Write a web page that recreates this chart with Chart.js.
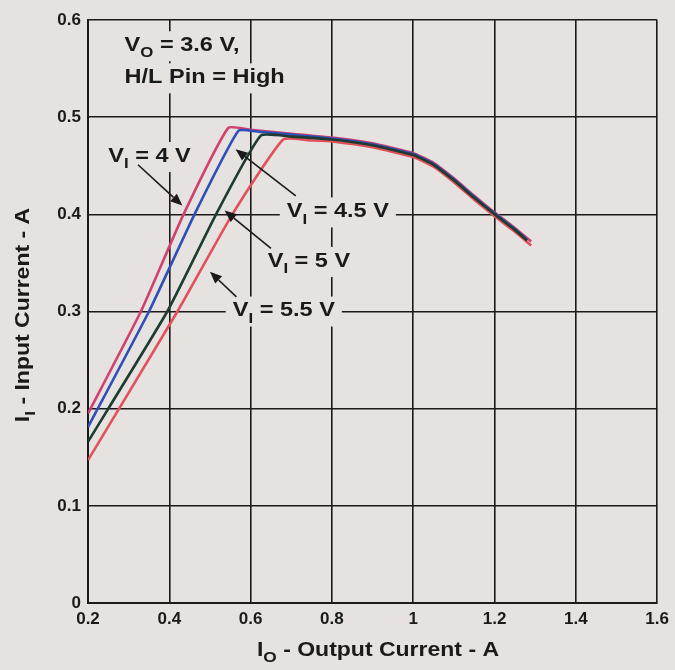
<!DOCTYPE html>
<html>
<head>
<meta charset="utf-8">
<script src="https://cdn.jsdelivr.net/npm/chart.js@4/dist/chart.umd.min.js"></script>
<style>
  html, body { margin: 0; padding: 0; background: #e5e2df; }
  canvas { display: block; }
</style>
</head>
<body>
<canvas id="chart" width="675" height="670"></canvas>
<script>
// output current (A) / input current (A)
const io4V = [0.20, 0.33, 0.435, 0.545, 0.60, 0.70, 0.80, 0.90, 1.00, 1.05, 1.10, 1.15, 1.20, 1.25, 1.29];
const ii4V = [0.195, 0.30, 0.40, 0.489, 0.487, 0.483, 0.479, 0.473, 0.463, 0.453, 0.437, 0.419, 0.402, 0.386, 0.372];

const io45V = [0.20, 0.35, 0.462, 0.57, 0.62, 0.70, 0.80, 0.90, 1.00, 1.05, 1.10, 1.15, 1.20, 1.25, 1.28];
const ii45V = [0.181, 0.30, 0.40, 0.486, 0.485, 0.482, 0.478, 0.472, 0.462, 0.452, 0.436, 0.418, 0.401, 0.385, 0.374];

const io5V = [0.20, 0.395, 0.515, 0.625, 0.70, 0.80, 0.90, 1.00, 1.05, 1.10, 1.15, 1.20, 1.25, 1.28];
const ii5V = [0.166, 0.30, 0.40, 0.481, 0.480, 0.477, 0.471, 0.461, 0.451, 0.435, 0.417, 0.400, 0.384, 0.373];

const io55V = [0.20, 0.42, 0.555, 0.68, 0.75, 0.80, 0.90, 1.00, 1.05, 1.10, 1.15, 1.20, 1.25, 1.29];
const ii55V = [0.147, 0.30, 0.40, 0.477, 0.476, 0.475, 0.469, 0.459, 0.449, 0.433, 0.415, 0.398, 0.382, 0.368];

// text notes, positions in data units
const notes = [
    { parts: [["V"], ["O", 1], [" = 3.6 V,"]], x: 0.29, y: 0.574 },
    { parts: [["H/L Pin = High"]], x: 0.29, y: 0.541 },
    { parts: [["V"], ["I", 1], [" = 4 V"]], x: 0.25, y: 0.460 },
    { parts: [["V"], ["I", 1], [" = 4.5 V"]], x: 0.689, y: 0.403 },
    { parts: [["V"], ["I", 1], [" = 5 V"]], x: 0.642, y: 0.352 },
    { parts: [["V"], ["I", 1], [" = 5.5 V"]], x: 0.556, y: 0.301 },
];
// arrows: tail x, tail y, head x, head y
const arrows = [
    [0.323, 0.451, 0.432, 0.409],
    [0.711, 0.419, 0.563, 0.467],
    [0.650, 0.365, 0.536, 0.404],
    [0.565, 0.315, 0.500, 0.341],
];

const bg = "#e5e2df";
const ink = "#1a1a1a";
const fam = '"Liberation Sans", Arial, sans-serif';
const stretch = 1.12;

function pts(xs, ys) {
    return xs.map((x, i) => ({ x: x, y: ys[i] }));
}

function partsWidth(ctx, parts, big, small, sx) {
    let w = 0;
    parts.forEach((p) => {
        ctx.font = p[1] ? small : big;
        w += ctx.measureText(p[0]).width;
    });
    return w * sx;
}

function drawParts(ctx, parts, x, y, big, small, subDy, sx) {
    ctx.save();
    ctx.translate(x, y);
    ctx.scale(sx, 1);
    ctx.textBaseline = "middle";
    ctx.textAlign = "left";
    let cx = 0;
    parts.forEach((p) => {
        ctx.font = p[1] ? small : big;
        ctx.fillText(p[0], cx, p[1] ? subDy : 0);
        cx += ctx.measureText(p[0]).width;
    });
    ctx.restore();
}

const notesPlugin = {
    id: "notes",
    beforeDraw(chart) {
        const ctx = chart.ctx;
        ctx.save();
        ctx.fillStyle = bg;
        ctx.fillRect(0, 0, chart.width, chart.height);
        ctx.restore();
    },
    beforeDatasetsDraw(chart) {
        const ctx = chart.ctx;
        const xs = chart.scales.x, ys = chart.scales.y;
        const big = "bold 21px " + fam, small = "bold 15px " + fam;
        ctx.save();
        ctx.fillStyle = bg;
        notes.forEach((n) => {
            const w = partsWidth(ctx, n.parts, big, small, stretch);
            const px = xs.getPixelForValue(n.x), py = ys.getPixelForValue(n.y);
            ctx.fillRect(px - 7, py - 14, w + 14, 30);
        });
        ctx.restore();
    },
    afterDatasetsDraw(chart) {
        const ctx = chart.ctx;
        const xs = chart.scales.x, ys = chart.scales.y;
        const big = "bold 21px " + fam, small = "bold 15px " + fam;
        ctx.save();
        ctx.fillStyle = ink;
        ctx.strokeStyle = ink;
        notes.forEach((n) => {
            drawParts(ctx, n.parts, xs.getPixelForValue(n.x), ys.getPixelForValue(n.y), big, small, 8, stretch);
        });
        ctx.lineWidth = 1.6;
        arrows.forEach((a) => {
            const x1 = xs.getPixelForValue(a[0]), y1 = ys.getPixelForValue(a[1]);
            const x2 = xs.getPixelForValue(a[2]), y2 = ys.getPixelForValue(a[3]);
            const ang = Math.atan2(y2 - y1, x2 - x1);
            const hl = 12, hw = 5;
            ctx.beginPath();
            ctx.moveTo(x1, y1);
            ctx.lineTo(x2 - hl * Math.cos(ang), y2 - hl * Math.sin(ang));
            ctx.stroke();
            ctx.beginPath();
            ctx.moveTo(x2, y2);
            ctx.lineTo(x2 - hl * Math.cos(ang) + hw * Math.sin(ang), y2 - hl * Math.sin(ang) - hw * Math.cos(ang));
            ctx.lineTo(x2 - hl * Math.cos(ang) - hw * Math.sin(ang), y2 - hl * Math.sin(ang) + hw * Math.cos(ang));
            ctx.closePath();
            ctx.fill();
        });

        // axis titles with subscripts
        const tbig = "bold 20px " + fam, tsmall = "bold 15px " + fam;
        const xt = [["I"], ["O", 1], [" - Output Current - A"]];
        const xw = partsWidth(ctx, xt, tbig, tsmall, 1.15);
        drawParts(ctx, xt, 378 - xw / 2, 650, tbig, tsmall, 8, 1.15);

        const yt = [["I"], ["I", 1], [" - Input Current - A"]];
        const yw = partsWidth(ctx, yt, tbig, tsmall, 1.15);
        ctx.translate(23, 315);
        ctx.rotate(-Math.PI / 2);
        drawParts(ctx, yt, -yw / 2, 0, tbig, tsmall, 8, 1.15);
        ctx.restore();
    },
};

const lineDs = (label, xs, ys, color) => ({
    label: label,
    data: pts(xs, ys),
    borderColor: color,
    borderWidth: 2.6,
    pointRadius: 0,
    tension: 0.15,
    fill: false,
});

new Chart(document.getElementById("chart").getContext("2d"), {
    type: "line",
    data: {
        datasets: [
            lineDs("VI = 5 V", io5V, ii5V, "#1d3b30"),
            lineDs("VI = 4.5 V", io45V, ii45V, "#2f4fb8"),
            lineDs("VI = 4 V", io4V, ii4V, "#d2406e"),
            lineDs("VI = 5.5 V", io55V, ii55V, "#e3505a"),
        ],
    },
    options: {
        responsive: false,
        animation: false,
        layout: { padding: { top: 20, right: 15, left: 0, bottom: 0 } },
        plugins: {
            legend: { display: false },
            tooltip: { enabled: false },
        },
        scales: {
            x: {
                type: "linear",
                min: 0.2,
                max: 1.6,
                afterFit: (scale) => { scale.height = 67; },
                ticks: {
                    stepSize: 0.2,
                    padding: 6,
                    color: ink,
                    font: { family: fam, size: 17, weight: "bold" },
                    callback: (v) => String(+v.toFixed(1)),
                },
                grid: { color: ink, lineWidth: 1.6, drawTicks: false },
                border: { color: ink, width: 2 },
            },
            y: {
                min: 0,
                max: 0.6,
                afterFit: (scale) => { scale.width = 88; },
                ticks: {
                    stepSize: 0.1,
                    padding: 7,
                    color: ink,
                    font: { family: fam, size: 17, weight: "bold" },
                    callback: (v) => String(+v.toFixed(1)),
                },
                grid: { color: ink, lineWidth: 1.6, drawTicks: false },
                border: { color: ink, width: 2 },
            },
        },
    },
    plugins: [notesPlugin],
});
</script>
</body>
</html>
